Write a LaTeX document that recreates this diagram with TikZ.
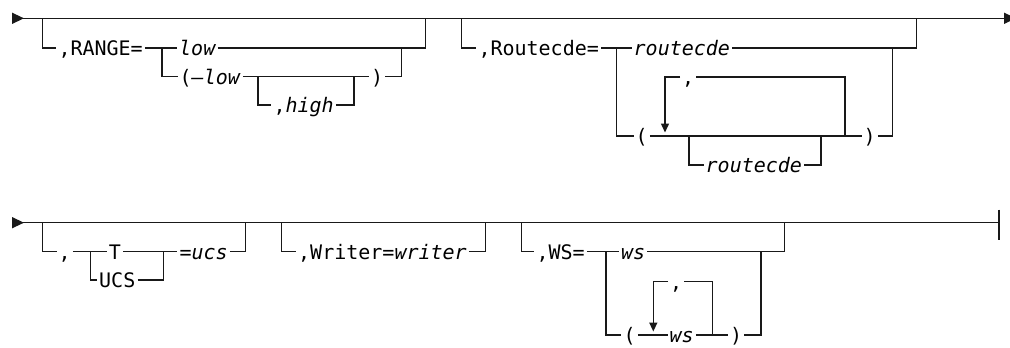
\documentclass[tikz,border=0pt]{standalone}
\usepackage{fontspec}
\newfontfamily\railfont{DejaVu Sans Mono}
\usetikzlibrary{arrows.meta}
\tikzset{
  kw/.style={anchor=west,font=\railfont\fontsize{20}{24}\selectfont,
    inner xsep=1.5pt,inner ysep=0pt,text height=14.6pt,text depth=0pt},
  rail/.style={line width=1.4pt,draw=black!90},
  ends/.style={{Triangle[length=12pt,width=11pt,reversed]}-{Triangle[length=12pt,width=11pt]}},
  back/.style={-{Triangle[length=9pt,width=8pt]}},
}

\begin{document}
\begin{tikzpicture}[x=1pt,y=-1pt,rail]
\useasboundingbox (0,0) rectangle (1010,348);
\clip (0,0) rectangle (1010,348);

% first line
\coordinate (r1s) at (12,18.3);
\coordinate (r1e) at (1016,18.3);
\draw[ends] (r1s) -- (r1e);

% ,RANGE=
\coordinate (g1a) at (42.7,18.3);
\coordinate (g1b) at (425.7,18.3);
\coordinate (g1j) at (162,48);
\coordinate (g1k) at (401.7,48);
\node[kw] (rng) at (56.3,48) {,RANGE=};
\node[kw] (low) at (177,48) {\itshape low};
\node[kw] (lowp) at (177.5,76.7) {(\textit{–low}};
\node[kw] (rp1) at (369,76.7) {)};
\draw (g1a) |- (rng.west);
\draw (rng.east) -- (g1j) -- (low.west);
\draw (low.east) -| (g1b);
\draw (g1j) |- (lowp.west);
\draw (lowp.east) -- (rp1.west);
\draw (rp1.east) -| (g1k);
\coordinate (hia) at (258,76.7);
\coordinate (hib) at (354,76.7);
\node[kw] (high) at (271.3,105) {,\textit{high}};
\draw (hia) |- (high.west);
\draw (high.east) -| (hib);

% ,Routecde=
\coordinate (g2a) at (461.7,18.3);
\coordinate (g2b) at (916.7,18.3);
\coordinate (g2j) at (616.7,48);
\coordinate (g2k) at (892.7,48);
\node[kw] (rte) at (476.3,48) {,Routecde=};
\node[kw] (rtc) at (631.5,48) {\itshape routecde};
\node[kw] (lp2) at (633.5,136) {(};
\node[kw] (rp2) at (861.5,136) {)};
\draw (g2a) |- (rte.west);
\draw (rte.east) -- (g2j) -- (rtc.west);
\draw (rtc.east) -| (g2b);
\draw (g2j) |- (lp2.west);
\draw (lp2.east) -- (rp2.west);
\draw (rp2.east) -| (g2k);
% repeat
\coordinate (rpb) at (845,136);
\coordinate (rpt) at (665,132.5);
\node[kw] (sep1) at (680,77) {,};
\draw (rpb) |- (sep1.east);
\draw[back] (sep1.west) -| (rpt);
\coordinate (opa) at (689,136);
\coordinate (opb) at (821,136);
\node[kw] (rtc2) at (703.5,165) {\itshape routecde};
\draw (opa) |- (rtc2.west);
\draw (rtc2.east) -| (opb);

% second line
\coordinate (r2s) at (12,222.7);
\coordinate (r2e) at (999,222.7);
\draw[{Triangle[length=12pt,width=11pt,reversed]}-] (r2s) -- (r2e);
\draw (999,209.5) -- (999,239.5);

% , T/UCS =ucs
\coordinate (gAa) at (42.7,222.7);
\coordinate (gAb) at (245.7,222.7);
\coordinate (gAj) at (90.7,251.7);
\coordinate (gAk) at (163.3,251.7);
\node[kw] (sep3) at (56.5,251.7) {,};
\node[kw] (optT) at (106.7,251.7) {T};
\node[kw] (optU) at (97,280) {UCS};
\node[kw] (ucs) at (177.3,251.7) {=\textit{ucs}};
\draw (gAa) |- (sep3.west);
\draw (sep3.east) -- (gAj) -- (optT.west);
\draw (optT.east) -- (gAk);
\draw (gAj) |- (optU.west);
\draw (optU.east) -| (gAk);
\draw (gAk) -- (ucs.west);
\draw (ucs.east) -| (gAb);

% ,Writer=writer
\coordinate (gBa) at (281.7,222.7);
\coordinate (gBb) at (485.7,222.7);
\node[kw] (wrt) at (296,251.7) {,Writer=\textit{writer}};
\draw (gBa) |- (wrt.west);
\draw (wrt.east) -| (gBb);

% ,WS=
\coordinate (gCa) at (521.7,222.7);
\coordinate (gCb) at (784.3,222.7);
\coordinate (gCj) at (606,251.7);
\coordinate (gCk) at (761,251.7);
\node[kw] (wsk) at (534.3,251.7) {,WS=};
\node[kw] (ws1) at (619,251.7) {\itshape ws};
\node[kw] (lp3) at (621.4,335) {(};
\node[kw] (ws2) at (667.5,335) {\itshape ws};
\node[kw] (rp3) at (728,335) {)};
\draw (gCa) |- (wsk.west);
\draw (wsk.east) -- (gCj) -- (ws1.west);
\draw (ws1.east) -| (gCb);
\draw (gCj) |- (lp3.west);
\draw (lp3.east) -- (ws2.west);
\draw (ws2.east) -- (rp3.west);
\draw (rp3.east) -| (gCk);
\coordinate (wrb) at (712.7,335);
\coordinate (wrp) at (653.3,331.5);
\node[kw] (sep2) at (668,281.7) {,};
\draw (wrb) |- (sep2.east);
\draw[back] (sep2.west) -| (wrp);
\end{tikzpicture}
\end{document}
